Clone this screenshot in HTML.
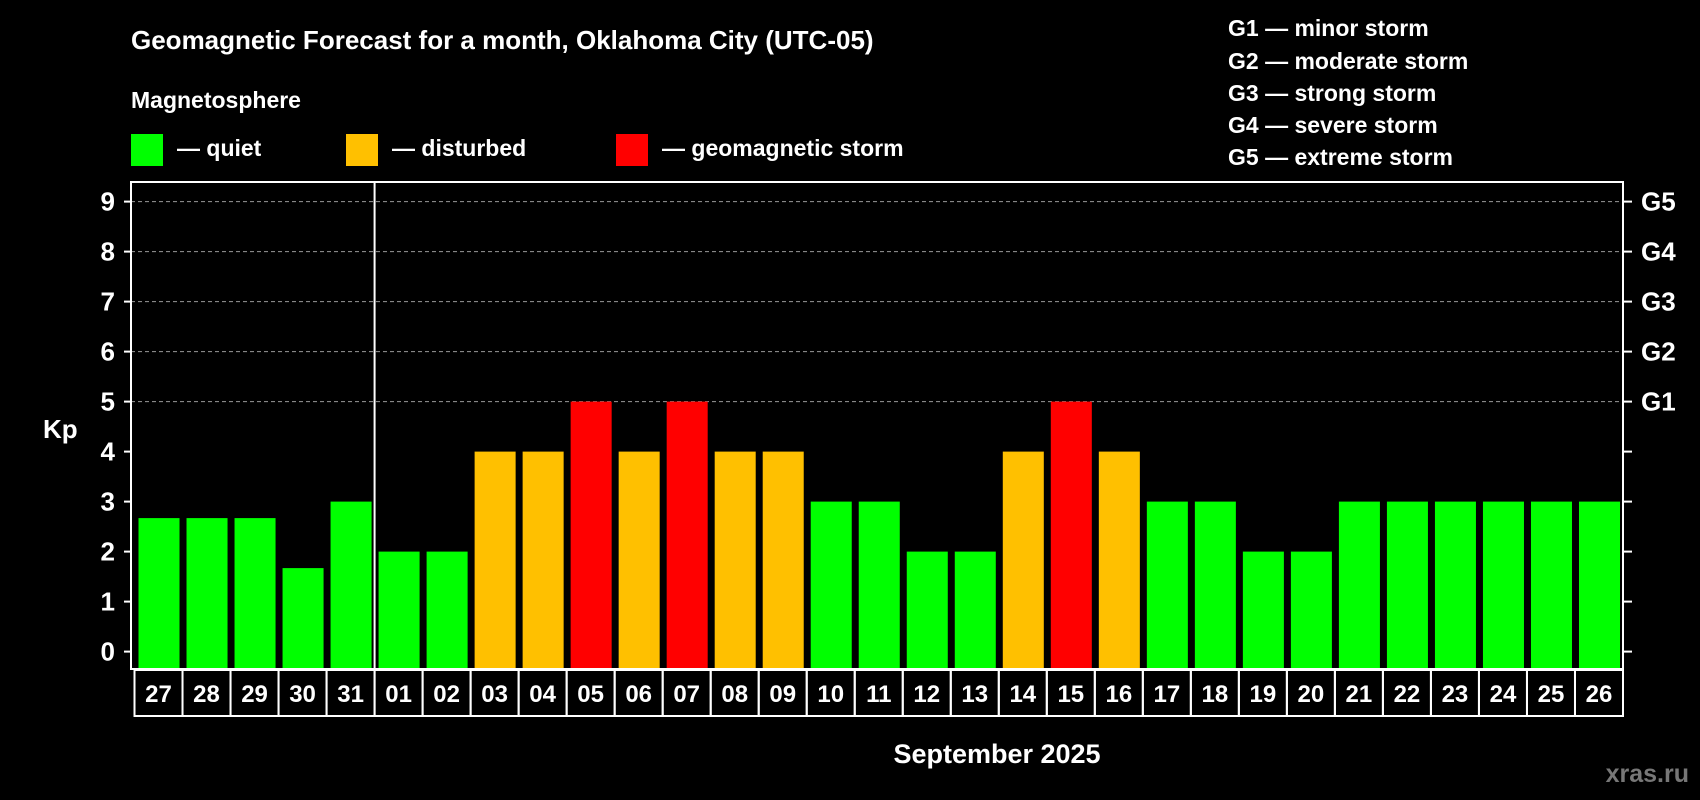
<!DOCTYPE html>
<html><head><meta charset="utf-8"><style>
html,body{margin:0;padding:0;background:#000;}
svg{display:block;font-family:"Liberation Sans",Arial,sans-serif;font-weight:bold;}
</style></head><body>
<svg id="chart" width="1700" height="800" viewBox="0 0 1700 800" xmlns="http://www.w3.org/2000/svg">
<rect width="1700" height="800" fill="#000"/>
<text x="131" y="49" fill="#fff" font-size="26">Geomagnetic Forecast for a month, Oklahoma City (UTC-05)</text>
<text x="131" y="108" fill="#fff" font-size="23">Magnetosphere</text>
<g><rect x="131" y="134" width="32" height="32" fill="#00ff00"/><text x="177" y="156" fill="#fff" font-size="23">— quiet</text></g>
<g><rect x="346" y="134" width="32" height="32" fill="#ffc000"/><text x="392" y="156" fill="#fff" font-size="23">— disturbed</text></g>
<g><rect x="616" y="134" width="32" height="32" fill="#ff0000"/><text x="662" y="156" fill="#fff" font-size="23">— geomagnetic storm</text></g>
<g fill="#fff" font-size="23">
<text x="1228" y="36">G1 — minor storm</text>
<text x="1228" y="69">G2 — moderate storm</text>
<text x="1228" y="101">G3 — strong storm</text>
<text x="1228" y="133">G4 — severe storm</text>
<text x="1228" y="165">G5 — extreme storm</text>
</g>
<text x="43" y="438" fill="#fff" font-size="26">Kp</text>
<text x="997" y="763" fill="#fff" font-size="27" text-anchor="middle">September 2025</text>
<text x="1689" y="782" fill="#777" font-size="25" text-anchor="end">xras.ru</text>
<g id="grid"></g><g id="bars"></g><g id="axes"></g>
</svg>
<script>
const days = ["27","28","29","30","31","01","02","03","04","05","06","07","08","09","10","11","12","13","14","15","16","17","18","19","20","21","22","23","24","25","26"];
const kp = [2.67,2.67,2.67,1.67,3,2,2,4,4,5,4,5,4,4,3,3,2,2,4,5,4,3,3,2,2,3,3,3,3,3,3];
const yTicks = [0,1,2,3,4,5,6,7,8,9];
const gLabels = ["G1","G2","G3","G4","G5"];
const gLevels = [5,6,7,8,9];
const NS="http://www.w3.org/2000/svg";
const L=131,R=1623,T=182,B=669;
const y=v=>651.6-50*v;
const pitch=(R-L-3.5)/days.length;
const x=i=>L+3.5+i*pitch;
function mk(tag,attrs,parent){const e=document.createElementNS(NS,tag);for(const k in attrs)e.setAttribute(k,attrs[k]);parent.appendChild(e);return e;}
const grid=document.getElementById('grid'),bars=document.getElementById('bars'),axes=document.getElementById('axes');
gLevels.forEach(v=>{const l=mk('line',{x1:L,x2:R,y1:y(v),y2:y(v),stroke:'#999','stroke-dasharray':'4,3','stroke-width':1},grid);

});
kp.forEach((v,i)=>{const c=v>=5?'#ff0000':(v>=4?'#ffc000':'#00ff00');
const r=mk('rect',{x:x(i)+4,y:y(v),width:pitch-7,height:B-1-y(v),fill:c},bars);

});
const frame=mk('rect',{x:L,y:T,width:R-L,height:B-T,fill:'none',stroke:'#fff','stroke-width':2},axes);


const sep=mk('line',{x1:x(5),x2:x(5),y1:T,y2:B,stroke:'#fff','stroke-width':2},axes);


yTicks.forEach(v=>{mk('line',{x1:L-7,x2:L,y1:y(v),y2:y(v),stroke:'#fff','stroke-width':2},axes);
mk('line',{x1:R,x2:R+9,y1:y(v),y2:y(v),stroke:'#fff','stroke-width':2},axes);
const t=mk('text',{x:115,y:y(v)+9,fill:'#fff','font-size':26,'text-anchor':'end'},axes);t.textContent=v;

});
gLabels.forEach((g,i)=>{const t=mk('text',{x:1641,y:y(gLevels[i])+9,fill:'#fff','font-size':26},axes);t.textContent=g;

});
days.forEach((d,i)=>{const bx=x(i);
const r=mk('rect',{x:bx,y:670,width:pitch,height:46,fill:'none',stroke:'#fff','stroke-width':2},axes);


const t=mk('text',{x:bx+pitch/2,y:702,fill:'#fff','font-size':24,'text-anchor':'middle'},axes);t.textContent=d;

});
</script>
</body></html>
